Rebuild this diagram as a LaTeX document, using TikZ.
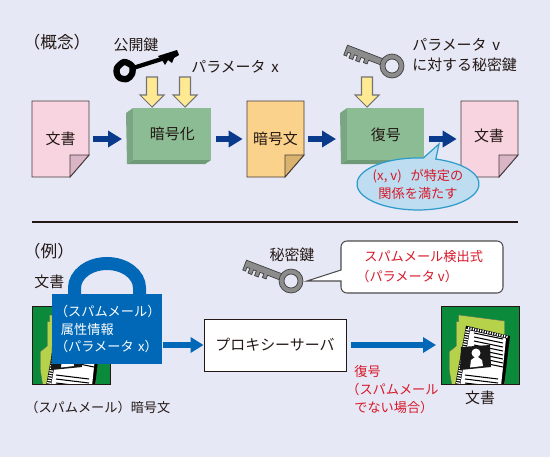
\documentclass[tikz,border=0pt]{standalone}
\usepackage{fontspec}
\setmainfont{Noto Sans CJK JP}
\usepackage{xcolor}
\usetikzlibrary{arrows.meta,positioning,calc}

\definecolor{pagebg}{HTML}{E7E8F5}
\definecolor{inkdark}{HTML}{231815}
\definecolor{navyblue}{HTML}{0A3A8C}
\definecolor{lockblue}{HTML}{0068B7}
\definecolor{redtext}{HTML}{D7182A}
\definecolor{pinkpage}{HTML}{F8D3E0}
\definecolor{pinkfold}{HTML}{D9B5C5}
\definecolor{orangepage}{HTML}{FBD28C}
\definecolor{orangefold}{HTML}{D9B26E}
\definecolor{greenfront}{HTML}{8CBC94}
\definecolor{greenside}{HTML}{7AA684}
\definecolor{greenlow}{HTML}{6F9A78}
\definecolor{arrowyellow}{HTML}{FFE993}
\definecolor{bubblefill}{HTML}{BFDDF0}
\definecolor{bubbleline}{HTML}{2E9CCB}
\definecolor{icongreen}{HTML}{0A8A3A}
\definecolor{folderlime}{HTML}{B5D24A}
\definecolor{keygray}{HTML}{8C8C8C}

\tikzset{
  biglabel/.style={font=\fontsize{8.5}{10.2}\selectfont,text=inkdark,inner sep=0pt},
  smalllabel/.style={font=\fontsize{7.5}{10.2}\selectfont,text=inkdark,inner sep=0pt},
  headlabel/.style={font=\fontsize{9.5}{11}\selectfont,text=inkdark,inner sep=0pt},
  redlabel/.style={smalllabel,text=redtext},
  pageline/.style={draw=inkdark!85,line width=0.5pt},
  pagebox/.style={biglabel,minimum width=1.14cm,minimum height=1.52cm},
  greenfrontbox/.style={biglabel,fill=greenfront,minimum width=1.56cm,minimum height=1.04cm},
  bluearrow/.style={navyblue,line width=3.4pt,shorten <=0.08cm,shorten >=0.08cm,
    -{Triangle[length=0.28cm,width=0.32cm]}},
  lockarrow/.style={lockblue,line width=3pt,shorten <=0.02cm,
    -{Triangle[length=0.26cm,width=0.3cm]}},
  yellowarrow/.style={draw=black!55,fill=arrowyellow,line width=0.6pt},
  graykey/.pic={
    \draw[draw=black!75,fill=keygray,line width=0.4pt,rotate=-21]
      (-49,-3.5) -- (-9,-3.5) -- (-9,3) -- (-24,3) -- (-24,7) -- (-28,7) -- (-28,3)
      -- (-32,3) -- (-32,8) -- (-36,8) -- (-36,3) -- (-39,3) -- (-39,8) -- (-43,8)
      -- (-43,3) -- (-46,3) -- (-46,7) -- (-49,7) -- cycle;
    \draw[draw=black!75,fill=keygray,line width=0.4pt,even odd rule]
      (0,0) circle (12) (0,0) circle (7);
  },
  photoicon/.pic={
    \fill[icongreen] (0,0) rectangle (78,78);
    \begin{scope}
      \clip (0,0) rectangle (78,78);
      \fill[folderlime,draw=black!60,line width=0.2pt] (17.7,9) -- (63.7,15) -- (63.7,80) -- (11,80)
        -- (8.3,64) -- (8.3,45.7) -- (15.3,40) -- (15.3,15.7) -- (17.7,15.7) -- cycle;
      \fill[black] (25,19.7) -- (69,30) -- (63,80) -- (14,80) -- cycle;
      \draw[white,line width=2.2pt,dash pattern=on 0.7pt off 0.7pt] (16.5,80) -- (27,22);
      \draw[white,line width=1.3pt,dash pattern=on 0.7pt off 0.7pt] (27,22) -- (67,31);
      \fill[white] (29,24.5) -- (65,32.5) -- (60,80) -- (19,80) -- cycle;
      \foreach \i in {0,...,7}
        \draw[black,line width=0.6pt] (33,27+4*\i) -- (62,33+4*\i);
      \foreach \i in {0,...,2}
        \draw[black,line width=0.6pt] (24,69+4*\i) -- (57,73+4*\i);
      \fill[black!90] (20,41) -- (49,39) -- (50,61) -- (19,64) -- cycle;
      \fill[white] (35,47) circle (4.5);
      \fill[white] (29,61.5) -- (30,54) -- (34,51) -- (37,51) -- (41,54) -- (42,60) -- cycle;
    \end{scope}
    \draw[inkdark,line width=0.5pt] (0,0) rectangle (78,78);
  },
}

\newcommand{\foldpage}[6]{
  \draw[pageline,fill=#4,shift={(#2,#3)}] (0,0) -- (57,0) -- (57,54) -- (38,76) -- (0,76) -- cycle;
  \draw[pageline,fill=#5,shift={(#2,#3)}] (57,54) -- (38,54) -- (38,76) -- cycle;
  \node[pagebox] (#1) at (#2+28.5,#3+38) {#6};
}
\newcommand{\greenblock}[4]{
  \fill[greenside,shift={(#2,0)}] (-7,113) -- (0,108) -- (0,160) -- (-6,164) -- cycle;
  \fill[greenlow,shift={(#2,0)}] (-6,164) -- (0,160) -- (#3,160) -- (#3-6,164) -- cycle;
  \node[greenfrontbox,minimum width=#3*0.02cm,anchor=north west] (#1) at (#2,108) {#4};
}

\begin{document}
\begin{tikzpicture}[x=0.02cm,y=-0.02cm]
  \useasboundingbox (0,0) rectangle (550,457);
  \fill[pagebg] (0,0) rectangle (550,457);

  % upper half
  \node[headlabel] (concept) at (57,42) {（概念）};
  \foldpage{plain}{32}{101}{pinkpage}{pinkfold}{文書}
  \foldpage{cipher}{247}{101}{orangepage}{orangefold}{暗号文}
  \foldpage{output}{461}{101}{pinkpage}{pinkfold}{}
  \node[biglabel] (outputtext) at (489,136) {文書};
  \greenblock{enc}{133}{78}{暗号化}
  \greenblock{dec}{347}{77}{復号}

  \draw[bluearrow,shorten >=0.22cm] (plain.east) -- (plain.east -| enc.west);
  \draw[bluearrow] (cipher.west -| enc.east) -- (cipher.west);
  \draw[bluearrow,shorten >=0.22cm] (cipher.east) -- (cipher.east -| dec.west);
  \draw[bluearrow] (output.west -| dec.east) -- (output.west);

  \foreach \x in {152,185,367}
    \draw[yellowarrow,shift={(\x,0)}] (-5.5,77) -- (5.5,77) -- (5.5,95) -- (12,95)
      -- (0,107) -- (-12,95) -- (-5.5,95) -- cycle;

  % black key
  \draw[black,line width=3.6pt,line join=round] plot[smooth cycle] coordinates
    {(117,68) (124,62) (132,66) (132,74) (127,79) (120,78) (117,74)};
  \draw[black,line width=2.4pt] (133,68) -- (168,57);
  \fill[black] (158,56) -- (177,50) -- (179,55) -- (174,58) -- (172,63) -- (168,60)
    -- (165,65) -- (162,60) -- cycle;

  \node[biglabel] (pubkey) at (136,45) {公開鍵};
  \node[biglabel,anchor=west] (paramx) at (191,67) {パラメータ\ \,x};
  \pic at (392,66) {graykey};
  \node[biglabel,anchor=west] (paramv) at (412,45) {パラメータ\ \,v};
  \node[biglabel,anchor=west] (secretv) at (412,65) {に対する秘密鍵};

  % condition balloon
  \draw[draw=bubbleline,fill=bubblefill,line width=0.7pt]
    (435.8,159.1) arc[start angle=-73,end angle=275,x radius=61,y radius=26]
    -- (439,144) -- cycle;
  \node[redlabel] (cond1) at (418,176) {(x, v)\ \ \ が特定の};
  \node[redlabel] (cond2) at (418,193) {関係を満たす};

  \coordinate (ruleleft) at (32,222);
  \coordinate (ruleright) at (518,222);
  \draw[inkdark,line width=0.9pt] (ruleleft) -- (ruleright);

  % lower half
  \node[headlabel] (sample) at (49,251) {（例）};
  \node[biglabel,anchor=west] (plainlabel) at (34,282) {文書};
  \pic at (32,306) {photoicon};
  \pic at (441,306) {photoicon};
  \draw[lockblue,line width=7.4pt] (74.5,296) -- (74.5,288)
    arc[start angle=180,end angle=360,x radius=32.5,y radius=24.5] -- (139.5,296);
  \node[smalllabel,text=white,fill=lockblue,align=left,text width=2.08cm,inner xsep=0.06cm,
    minimum height=1.4cm] (lock) at (107,329)
    {（スパムメール）\\\hspace*{3.4pt}属性情報\\（パラメータ\ x）};
  \node[smalllabel,anchor=west] (cipherlabel) at (25,407) {（スパムメール）暗号文};

  \node[biglabel,fill=white,draw=inkdark,line width=0.5pt,minimum width=2.84cm,minimum height=1.04cm]
    (proxy) at (275,345) {プロキシーサーバ};
  \coordinate (iconleft) at (441,345);
  \draw[lockarrow] (lock.east |- proxy.west) -- (proxy.west);
  \draw[lockarrow,shorten <=0.1cm,shorten >=0.1cm] (proxy.east) -- (iconleft);

  \node[biglabel] (secretkey) at (292,255) {秘密鍵};
  \pic at (291,281) {graykey};

  % red balloon
  \draw[draw=black!70,fill=white,line width=0.6pt,rounded corners=0.12cm]
    (341,270) -- (341,241) -- (503,241) -- (503,293) -- (341,293)
    [sharp corners] -- (341,281) -- (307,281) -- cycle;
  \node[redlabel,anchor=west] (formula) at (364,257) {スパムメール検出式};
  \node[redlabel,anchor=west] (paramred) at (356,276) {（パラメータ\ v）};

  \node[redlabel,anchor=west] (decode) at (354,371) {復号};
  \node[redlabel,anchor=west] (decode2) at (346,389) {（スパムメール};
  \node[redlabel,anchor=west] (decode3) at (354,407) {でない場合）};
  \node[biglabel] (outlabel) at (480,398) {文書};
\end{tikzpicture}
\end{document}
